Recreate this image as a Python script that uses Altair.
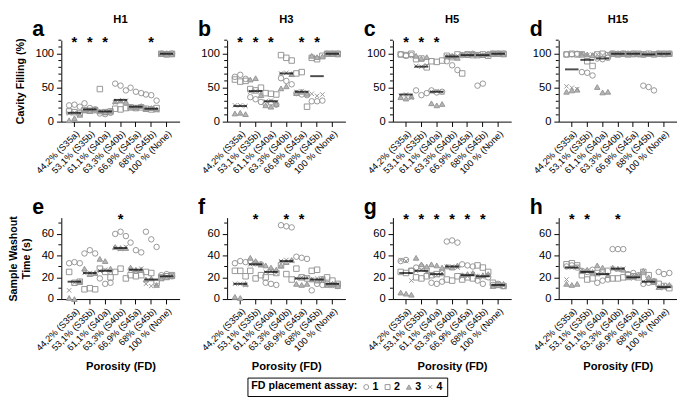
import altair as alt
import pandas as pd

CATS = ["44,2% (S35a)", "53,1% (S35b)", "61,1% (S40a)", "63,3% (S40b)",
        "66,9% (S45a)", "68% (S45b)", "100 % (None)"]
ASSAYS = ["1", "2", "3", "4"]
SHAPES = ["circle", "square", "triangle-up", "M-0.8,-0.8L0.8,0.8M0.8,-0.8L-0.8,0.8"]
FILLS = ["transparent", "transparent", "#b5b5b5", "transparent"]
GRAY = "#969696"

# ---- panel a (H1, cavity filling) ----
A_CIR = [[24, 25, 22], [27, 20, 18], [12, 11, 13], [56, 53, 46], [50, 44, 42], [40, 39, 31], [100, 100, 100]]
A_SQU = [[15, 14, 12], [17, 16, 17], [48, 14, 15], [19, 18, 20], [21, 20, 21], [19, 18, 20], [100, 99, 100]]
A_TRI = [[2, 5, 10], [17, 16, 18], [15, 14, 16], [30, 31, 29], [22, 21, 23], [19, 20, 18], [100, 100, 99]]
A_CRO = [[12, 13, 11], [16, 17, 18], [15, 15, 14], [28, 30, 31], [20, 19, 21], [18, 19, 17], [100, 100, 100]]
A_MED = [13, 18, 15, 32, 22, 19, 100]
A_STAR = [0, 1, 2, 5]

# ---- panel b (H3, cavity filling) ----
B_CIR = [[66, 69, 63], [36, 33, 29], [26, 28, 25], [64, 60, 55], [42, 40, 39], [30, 30, 31], [100, 100, 100]]
B_SQU = [[62, 59, 60], [48, 46, 50], [42, 41, 40], [98, 94, 90], [71, 73, 22], [94, 92, 97], [100, 100, 100]]
B_TRI = [[12, 13, 11], [62, 64, 39], [24, 22, 26], [49, 52, 70], [42, 44, 41], [97, 95, 96], [100, 100, 99]]
B_CRO = [[24, 24, 23], [44, 45, 43], [30, 31, 29], [71, 72, 70], [44, 45, 43], [41, 38, 40], [100, 100, 100]]
B_MED = [23, 45, 30, 71, 44, 67, 100]
B_STAR = [0, 1, 2, 4, 5]

# ---- panel c (H5, cavity filling) ----
C_CIR = [[99, 97, 98], [46, 39, 42], [46, 43, 44], [89, 83, 76], [98, 99, 100], [53, 56, 99], [100, 100, 100]]
C_SQU = [[99, 98, 100], [92, 93, 80], [89, 88, 90], [97, 95, 99], [71, 99, 98], [98, 99, 97], [100, 100, 100]]
C_TRI = [[36, 34, 37], [97, 93, 95], [27, 24, 26], [96, 97, 94], [99, 98, 100], [99, 98, 100], [100, 100, 99]]
C_CRO = [[38, 40, 35], [82, 81, 83], [44, 45, 43], [96, 95, 97], [99, 100, 98], [99, 98, 99], [100, 100, 100]]
C_MED = [40, 81, 44, 96, 98, 98, 100]
C_STAR = [0, 1, 2]

# ---- panel d (H15, cavity filling) ----
D_CIR = [[99, 99, 100], [73, 72, 68], [93, 92, 94], [100, 100, 100], [100, 100, 99], [53, 51, 46], [100, 100, 100]]
D_SQU = [[99, 100, 99], [99, 89, 82], [99, 100, 98], [100, 99, 100], [99, 100, 100], [99, 100, 99], [100, 100, 100]]
D_TRI = [[44, 46, 47], [100, 99, 98], [51, 43, 44], [100, 100, 100], [100, 99, 100], [99, 100, 100], [100, 99, 100]]
D_CRO = [[52, 50, 48], [100, 98, 99], [99, 98, 100], [100, 100, 99], [100, 100, 100], [100, 99, 100], [100, 100, 100]]
D_MED = [77, 91, 93, 100, 100, 99, 100]
D_STAR = []

# ---- panel e (H1, washout time) ----
E_CIR = [[33, 34, 33], [42, 45, 42], [19, 14, 15], [60, 62, 58], [52, 45, 43], [62, 55, 48], [22, 23, 21]]
E_SQU = [[25, 15, 16], [9, 10, 9], [28, 25, 20], [25, 28, 19], [22, 21, 22], [25, 24, 15], [20, 21, 22]]
E_TRI = [[1, 0, 16], [28, 23, 24], [37, 35, 28], [48, 47, 47], [29, 27, 27], [18, 19, 13], [19, 20, 21]]
E_CRO = [[8, 15, 16], [24, 24, 23], [26, 27, 25], [47, 46, 48], [27, 26, 28], [14, 12, 13], [20, 21, 22]]
E_MED = [16, 24, 26, 47, 27, 18, 21]
E_STAR = [3]

# ---- panel f (H3, washout time) ----
F_CIR = [[33, 35, 34], [35, 33, 32], [15, 14, 13], [68, 67, 66], [39, 38, 37], [8, 14, 13], [14, 13, 12]]
F_SQU = [[26, 26, 21], [26, 19, 22], [20, 25, 24], [31, 23, 18], [28, 20, 19], [26, 27, 18], [20, 17, 14]]
F_TRI = [[2, 1, 14], [38, 35, 32], [31, 29, 27], [31, 34, 36], [14, 13, 14], [18, 17, 19], [13, 14, 12]]
F_CRO = [[14, 14, 13], [32, 33, 31], [25, 26, 24], [35, 36, 35], [19, 20, 20], [18, 19, 17], [13, 12, 14]]
F_MED = [14, 32, 25, 35, 19, 18, 14]
F_STAR = [1, 3, 4]

# ---- panel g (H5, washout time) ----
G_CIR = [[35, 36, 26], [29, 30, 27], [15, 14, 16], [53, 54, 52], [32, 31, 30], [17, 14, 20], [13, 14, 12]]
G_SQU = [[25, 24, 26], [20, 19, 21], [22, 23, 24], [18, 17, 21], [18, 20, 19], [31, 29, 25], [15, 13, 12]]
G_TRI = [[6, 5, 4], [38, 32, 30], [32, 31, 29], [30, 29, 31], [22, 23, 24], [21, 22, 23], [12, 13, 14]]
G_CRO = [[36, 35, 17], [26, 27, 25], [23, 22, 24], [30, 30, 29], [22, 21, 23], [21, 20, 22], [12, 13, 12]]
G_MED = [24, 26, 23, 30, 22, 21, 13]
G_STAR = [0, 1, 2, 3, 4, 5]

# ---- panel h (H15, washout time) ----
H_CIR = [[30, 31, 29], [26, 25, 27], [15, 17, 18], [46, 46, 46], [23, 24, 22], [14, 15, 16], [25, 23, 24]]
H_SQU = [[32, 33, 31], [22, 18, 19], [24, 25, 26], [19, 19, 20], [22, 21, 20], [25, 22, 16], [14, 12, 10]]
H_TRI = [[14, 13, 14], [26, 27, 25], [31, 29, 22], [29, 28, 27], [20, 21, 22], [26, 20, 17], [11, 12, 13]]
H_CRO = [[18, 29, 30], [25, 26, 24], [23, 24, 22], [28, 27, 28], [20, 19, 21], [16, 17, 15], [11, 10, 12]]
H_MED = [29, 25, 23, 28, 20, 16, 11]
H_STAR = [0, 1, 3]

PANELS = [
    ("a", "H1", "top", [A_CIR, A_SQU, A_TRI, A_CRO], A_MED, A_STAR),
    ("b", "H3", "top", [B_CIR, B_SQU, B_TRI, B_CRO], B_MED, B_STAR),
    ("c", "H5", "top", [C_CIR, C_SQU, C_TRI, C_CRO], C_MED, C_STAR),
    ("d", "H15", "top", [D_CIR, D_SQU, D_TRI, D_CRO], D_MED, D_STAR),
    ("e", "", "bottom", [E_CIR, E_SQU, E_TRI, E_CRO], E_MED, E_STAR),
    ("f", "", "bottom", [F_CIR, F_SQU, F_TRI, F_CRO], F_MED, F_STAR),
    ("g", "", "bottom", [G_CIR, G_SQU, G_TRI, G_CRO], G_MED, G_STAR),
    ("h", "", "bottom", [H_CIR, H_SQU, H_TRI, H_CRO], H_MED, H_STAR),
]

TOP_MAJOR = [0, 50, 100]
TOP_MINOR = [10, 20, 30, 40, 60, 70, 80, 90, 110, 120]
BOT_MAJOR = [0, 20, 40, 60]
BOT_MINOR = [10, 30, 50, 70]

ROWCFG = {
    "top": dict(domain=[0, 120], major=TOP_MAJOR, minor=TOP_MINOR, star=110,
                title="Cavity Filling (%)"),
    "bottom": dict(domain=[0, 75], major=BOT_MAJOR, minor=BOT_MINOR, star=69,
                   title=["Sample Washout", "Time (s)"]),
}

FONT = "Liberation Sans"
W, H = 122, 84
LEGTITLE = "FD placement assay:"


def make_panel(idx, letter, htitle, row, series, med, stars):
    cfg = ROWCFG[row]
    rows = []
    for a, s in zip(ASSAYS, series):
        for ci, vals in enumerate(s):
            for r, v in enumerate(vals):
                rows.append({"cat": CATS[ci], "assay": a, "rep": r - 1, "value": v})
    pts = pd.DataFrame(rows)
    meds = pd.DataFrame({"cat": CATS, "med": med})
    st = pd.DataFrame({"cat": [CATS[i] for i in stars], "y": [cfg["star"]] * len(stars)})
    mn = pd.DataFrame({"v": cfg["minor"]})

    first = idx % 4 == 0
    xaxis = alt.Axis(labelAngle=-45, labelFontSize=9.5, labelPadding=2, tickSize=5,
                     labelOverlap=False,
                     title="Porosity (FD)" if row == "bottom" else None,
                     titleFontSize=11.5, titlePadding=8)
    x = alt.X("cat:N", sort=CATS,
              scale=alt.Scale(domain=CATS, paddingInner=0, paddingOuter=0.35),
              axis=xaxis)
    yaxis = alt.Axis(values=cfg["major"], labelOverlap=False, tickSize=5,
                     labelFontSize=11.5, labelPadding=3,
                     title=cfg["title"] if first else None,
                     titleFontSize=11, titlePadding=10)
    yscale = alt.Scale(domain=cfg["domain"], nice=False)

    points = alt.Chart(pts).mark_point(filled=False, size=32, strokeWidth=1, opacity=1).encode(
        x=x,
        xOffset=alt.XOffset("rep:Q", scale=alt.Scale(domain=[-1, 1], range=[2.5, 13.5])),
        y=alt.Y("value:Q", scale=yscale, axis=yaxis),
        shape=alt.Shape("assay:N", scale=alt.Scale(domain=ASSAYS, range=SHAPES),
                        title=LEGTITLE),
        fill=alt.Fill("assay:N", scale=alt.Scale(domain=ASSAYS, range=FILLS),
                      title=LEGTITLE),
        stroke=alt.Stroke("assay:N", scale=alt.Scale(domain=ASSAYS, range=[GRAY] * 4),
                          title=LEGTITLE),
    )
    minor = alt.Chart(mn).mark_rule(color="black", strokeWidth=1).encode(
        y=alt.Y("v:Q", axis=yaxis), x=alt.value(-3), x2=alt.value(0))
    ticks = alt.Chart(meds).mark_tick(color="black", thickness=2, size=14).encode(
        x=alt.X("cat:N", sort=CATS, axis=xaxis), y=alt.Y("med:Q", axis=yaxis))
    layers = [points, minor, ticks]
    if len(st):
        stars_l = alt.Chart(st).mark_text(text="*", fontSize=15, fontWeight="bold",
                                          color="black", baseline="alphabetic").encode(
            x=alt.X("cat:N", sort=CATS, axis=xaxis), y=alt.Y("y:Q", axis=yaxis))
        layers.append(stars_l)
    lett = alt.Chart(pd.DataFrame({"t": [letter]})).mark_text(
        fontSize=22, fontWeight="bold", align="left", baseline="alphabetic",
        font=FONT, color="black").encode(
        text="t:N", x=alt.value(-30), y=alt.value(-4))
    layers.append(lett)
    if htitle:
        ht = alt.Chart(pd.DataFrame({"t": [htitle]})).mark_text(
            fontSize=11.5, fontWeight="bold", align="center", baseline="middle",
            font=FONT, color="black").encode(
            text="t:N", x=alt.value(W / 2), y=alt.value(-21))
        layers.append(ht)
    return alt.layer(*layers).properties(width=W, height=H)


charts = [make_panel(i, *p) for i, p in enumerate(PANELS)]

chart = alt.concat(*charts, columns=4, spacing={"row": 21, "column": 19}).properties(
    padding={"left": 0, "top": 0, "right": 0, "bottom": 0},
).configure(
    font=FONT,
).configure_view(stroke=None).configure_axis(
    grid=False, domainColor="black", tickColor="black", labelColor="black",
    titleColor="black", labelFont=FONT, titleFont=FONT, titleFontWeight="bold",
    domainWidth=1, tickWidth=1,
).configure_legend(
    orient="none", legendX=192, legendY=348, direction="horizontal", titleOrient="left",
    titleFontSize=11, titleFontWeight="bold", titleColor="black", titleFont=FONT,
    labelFontSize=11, labelFontWeight="bold", labelColor="black", labelFont=FONT,
    strokeColor="black", padding=4, symbolSize=26, symbolStrokeWidth=1,
    columnPadding=3, labelOffset=1, titlePadding=3,
)

chart.save("out.html", embed_options={"renderer": "svg", "actions": False})
